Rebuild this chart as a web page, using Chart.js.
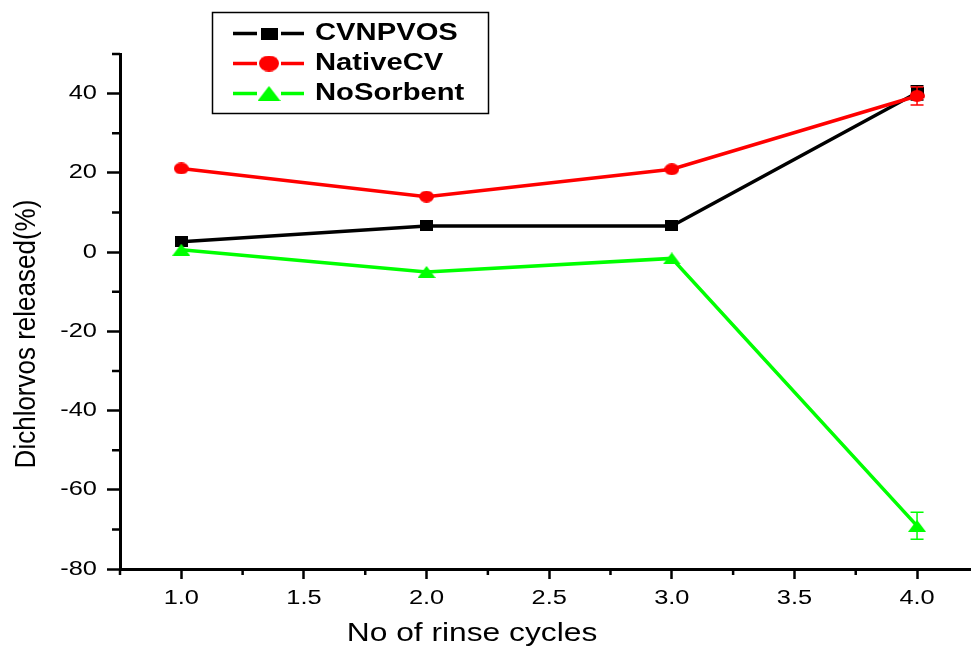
<!DOCTYPE html>
<html>
<head>
<meta charset="utf-8">
<script src="https://cdn.jsdelivr.net/npm/chart.js@4/dist/chart.umd.min.js"></script>
<style>
  html, body { margin: 0; padding: 0; background: #fff; }
  #wrap { width: 971px; height: 647px; }
  canvas { display: block; }
</style>
</head>
<body>
<div id="wrap"><canvas id="c" width="971" height="647"></canvas></div>
<script>
// Rinse cycles and the dichlorvos released after each one (%)
const cycles = [1.0, 2.0, 3.0, 4.0];
const cvnpvos = [2.6, 6.6, 6.6, 40.2];
const cvnpvosErr = [0, 0, 0, 1.8];
const nativeCV = [21.1, 14.0, 20.9, 39.4];
const nativeCVErr = [0, 0, 0, 2.3];
const noSorbent = [0.6, -5.0, -1.6, -69.1];
const noSorbentErr = [0, 0, 0, 3.4];

const seriesNames = ['CVNPVOS', 'NativeCV', 'NoSorbent'];
const xTickValues = [0.75, 1.0, 1.25, 1.5, 1.75, 2.0, 2.25, 2.5, 2.75, 3.0, 3.25, 3.5, 3.75, 4.0];
const yTickValues = [-80, -70, -60, -50, -40, -30, -20, -10, 0, 10, 20, 30, 40, 50];

const COLORS = ['#000000', '#ff0000', '#00ff00'];
const TEXT_STRETCH = 1.27;
const FONT = '"Liberation Sans", Arial, sans-serif';

// Marker sprites (slightly wide)
function makeMarker(shape, w, h, color) {
  const cv = document.createElement('canvas');
  cv.width = w; cv.height = h;
  const g = cv.getContext('2d');
  g.fillStyle = color;
  if (shape === 'square') {
    g.fillRect(0, 0, w, h);
  } else if (shape === 'circle') {
    g.beginPath();
    g.ellipse(w / 2, h / 2, w / 2, h / 2, 0, 0, Math.PI * 2);
    g.fill();
  } else {
    g.beginPath();
    g.moveTo(0, h);
    g.lineTo(w / 2, 0);
    g.lineTo(w, h);
    g.closePath();
    g.fill();
  }
  return cv;
}
const plotMarkers = [
  makeMarker('square', 13, 11, COLORS[0]),
  makeMarker('circle', 15, 12, COLORS[1]),
  makeMarker('triangle', 18, 12, COLORS[2])
];
const legendMarkers = [
  makeMarker('square', 17, 12, COLORS[0]),
  makeMarker('circle', 20, 16, COLORS[1]),
  makeMarker('triangle', 23, 15, COLORS[2])
];

const values = [cvnpvos, nativeCV, noSorbent];
const errors = [cvnpvosErr, nativeCVErr, noSorbentErr];

const datasets = values.map((vals, i) => ({
  label: seriesNames[i],
  data: cycles.map((x, j) => ({ x: x, y: vals[j] })),
  borderColor: COLORS[i],
  backgroundColor: COLORS[i],
  borderWidth: 3.5,
  pointStyle: plotMarkers[i],
  pointRadius: 7,
  tension: 0,
  order: 3 - i
}));

function drawText(ctx, text, x, y, font, align, rotate, stretch) {
  ctx.save();
  ctx.translate(x, y);
  ctx.scale(stretch || TEXT_STRETCH, 1);
  if (rotate) ctx.rotate(-Math.PI / 2);
  ctx.font = font;
  ctx.fillStyle = '#000';
  ctx.textAlign = align;
  ctx.textBaseline = 'middle';
  ctx.fillText(text, 0, 0);
  ctx.restore();
}

const decorations = {
  id: 'decorations',
  beforeDatasetDraw(chart, args) {
    // vertical error bars with caps, beneath the markers
    const i = args.index;
    const ys = chart.scales.y;
    const ctx = chart.ctx;
    const err = errors[i];
    ctx.save();
    ctx.strokeStyle = COLORS[i];
    ctx.lineWidth = 1.5;
    args.meta.data.forEach((pt, j) => {
      if (!err[j]) return;
      const top = ys.getPixelForValue(values[i][j] + err[j]);
      const bot = ys.getPixelForValue(values[i][j] - err[j]);
      ctx.beginPath();
      ctx.moveTo(pt.x, top); ctx.lineTo(pt.x, bot);
      ctx.moveTo(pt.x - 6.5, top); ctx.lineTo(pt.x + 6.5, top);
      ctx.moveTo(pt.x - 6.5, bot); ctx.lineTo(pt.x + 6.5, bot);
      ctx.stroke();
    });
    ctx.restore();
  },
  afterDraw(chart) {
    const ctx = chart.ctx;
    const xs = chart.scales.x, ys = chart.scales.y;
    const area = chart.chartArea;

    // minor tick marks
    ctx.save();
    ctx.strokeStyle = '#000';
    ctx.lineWidth = 2.5;
    ctx.beginPath();
    ys.ticks.forEach(t => {
      if (t.major) return;
      const y = ys.getPixelForValue(t.value);
      ctx.moveTo(area.left - 8, y); ctx.lineTo(area.left, y);
    });
    xs.ticks.forEach(t => {
      if (t.major) return;
      const x = xs.getPixelForValue(t.value);
      ctx.moveTo(x, area.bottom); ctx.lineTo(x, area.bottom + 6);
    });
    ctx.stroke();
    ctx.restore();

    // tick labels
    const tickFont = '20px ' + FONT;
    ys.ticks.forEach(t => {
      if (!t.major) return;
      drawText(ctx, String(t.value), 97, ys.getPixelForValue(t.value), tickFont, 'right');
    });
    xs.ticks.forEach(t => {
      if (!t.major) return;
      drawText(ctx, t.value.toFixed(1), xs.getPixelForValue(t.value), 598, tickFont, 'center');
    });

    // axis titles
    drawText(ctx, 'No of rinse cycles', 472, 634, '25px ' + FONT, 'center');
    drawText(ctx, 'Dichlorvos released(%)', 27, 334, '26px ' + FONT, 'center', true, 1.1);

    // legend
    ctx.save();
    ctx.strokeStyle = '#000';
    ctx.lineWidth = 1.5;
    ctx.strokeRect(212.5, 12.5, 276, 101);
    const rows = [33.5, 63.5, 93.5];
    rows.forEach((ry, i) => {
      ctx.strokeStyle = COLORS[i];
      ctx.lineWidth = 3.5;
      ctx.beginPath();
      ctx.moveTo(233, ry); ctx.lineTo(257, ry);
      ctx.moveTo(281, ry); ctx.lineTo(304, ry);
      ctx.stroke();
      const m = legendMarkers[i];
      ctx.drawImage(m, 269 - m.width / 2, ry - m.height / 2);
      drawText(ctx, seriesNames[i], 315, ry + 0.5, 'bold 23px ' + FONT, 'left');
    });
    ctx.restore();
  }
};

function majorOnly(c) {
  return c.tick && c.tick.major ? '#000' : 'rgba(0,0,0,0)';
}

new Chart(document.getElementById('c'), {
  type: 'line',
  data: { datasets: datasets },
  options: {
    responsive: false,
    animation: false,
    devicePixelRatio: 1,
    events: [],
    layout: { autoPadding: false, padding: { top: 54, left: 0, right: 0, bottom: 0 } },
    plugins: { legend: { display: false }, tooltip: { enabled: false } },
    scales: {
      x: {
        type: 'linear',
        min: 0.75,
        max: 4.22,
        afterBuildTicks: s => {
          s.ticks = xTickValues.map(v => ({ value: v, major: Math.abs(v * 2 - Math.round(v * 2)) < 1e-9 }));
        },
        afterFit: s => { s.height = 78; },
        ticks: { display: false },
        grid: { display: true, drawOnChartArea: false, drawTicks: true, tickLength: 10, tickWidth: 2.5, tickColor: majorOnly },
        border: { display: true, color: '#000', width: 3 }
      },
      y: {
        type: 'linear',
        min: -80,
        max: 50,
        afterBuildTicks: s => {
          s.ticks = yTickValues.map(v => ({ value: v, major: v % 20 === 0 }));
        },
        afterFit: s => { s.width = 120; },
        ticks: { display: false },
        grid: { display: true, drawOnChartArea: false, drawTicks: true, tickLength: 13, tickWidth: 2.5, tickColor: majorOnly },
        border: { display: true, color: '#000', width: 3 }
      }
    }
  },
  plugins: [decorations]
});
</script>
</body>
</html>
